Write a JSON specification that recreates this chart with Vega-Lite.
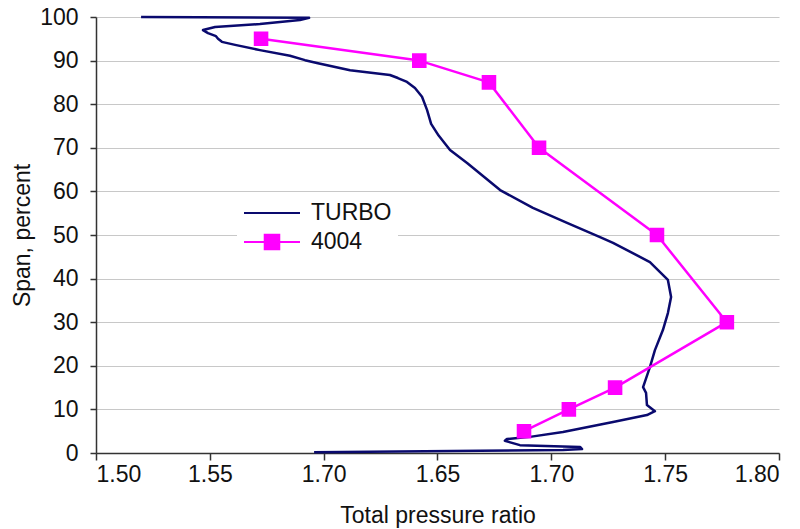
{
  "$schema": "https://vega.github.io/schema/vega-lite/v6.json",
  "autosize": {"type": "none"},
  "padding": {"left": 96, "top": 17, "right": 21, "bottom": 76},
  "width": 683,
  "height": 436,
  "background": "white",
  "config": {
    "font": "Liberation Sans",
    "view": {"stroke": null},
    "axis": {"labelFont": "Liberation Sans", "titleFont": "Liberation Sans", "labelFontSize": 23, "titleFontSize": 23, "labelColor": "#111", "titleColor": "#111", "titleFontWeight": "normal", "domainColor": "#333", "tickColor": "#333", "domainWidth": 1.5, "tickWidth": 1.5},
    "legend": {"title": null, "orient": "none", "legendX": 141, "legendY": 179, "fillColor": "white", "padding": 6, "symbolSize": 3136, "symbolStrokeWidth": 2.5, "labelFontSize": 23, "labelFont": "Liberation Sans", "labelColor": "#111", "labelOffset": 10, "clipHeight": 22, "rowPadding": 6}
  },
  "data": {
    "values": [
      {"series": "TURBO", "order": 1, "x": 1.5198, "y": 100},
      {"series": "TURBO", "order": 2, "x": 1.5936, "y": 99.8},
      {"series": "TURBO", "order": 3, "x": 1.5896, "y": 99.3},
      {"series": "TURBO", "order": 4, "x": 1.572, "y": 98.4},
      {"series": "TURBO", "order": 5, "x": 1.5523, "y": 97.7},
      {"series": "TURBO", "order": 6, "x": 1.547, "y": 97.0},
      {"series": "TURBO", "order": 7, "x": 1.5492, "y": 96.3},
      {"series": "TURBO", "order": 8, "x": 1.5527, "y": 95.6},
      {"series": "TURBO", "order": 9, "x": 1.5536, "y": 95.0},
      {"series": "TURBO", "order": 10, "x": 1.5553, "y": 94.3},
      {"series": "TURBO", "order": 11, "x": 1.5611, "y": 93.6},
      {"series": "TURBO", "order": 12, "x": 1.572, "y": 92.4},
      {"series": "TURBO", "order": 13, "x": 1.5852, "y": 91.1},
      {"series": "TURBO", "order": 14, "x": 1.5918, "y": 90.1},
      {"series": "TURBO", "order": 15, "x": 1.5975, "y": 89.4},
      {"series": "TURBO", "order": 16, "x": 1.6116, "y": 87.8},
      {"series": "TURBO", "order": 17, "x": 1.6291, "y": 86.7},
      {"series": "TURBO", "order": 18, "x": 1.6326, "y": 86.0},
      {"series": "TURBO", "order": 19, "x": 1.6366, "y": 85.1},
      {"series": "TURBO", "order": 20, "x": 1.6401, "y": 83.7},
      {"series": "TURBO", "order": 21, "x": 1.6432, "y": 81.7},
      {"series": "TURBO", "order": 22, "x": 1.6454, "y": 78.7},
      {"series": "TURBO", "order": 23, "x": 1.6472, "y": 75.5},
      {"series": "TURBO", "order": 24, "x": 1.6505, "y": 72.8},
      {"series": "TURBO", "order": 25, "x": 1.6555, "y": 69.5},
      {"series": "TURBO", "order": 26, "x": 1.663, "y": 66.5},
      {"series": "TURBO", "order": 27, "x": 1.6775, "y": 60.3},
      {"series": "TURBO", "order": 28, "x": 1.6919, "y": 56.2},
      {"series": "TURBO", "order": 29, "x": 1.7069, "y": 52.8},
      {"series": "TURBO", "order": 30, "x": 1.7214, "y": 49.5},
      {"series": "TURBO", "order": 31, "x": 1.7271, "y": 48.2},
      {"series": "TURBO", "order": 32, "x": 1.7433, "y": 43.8},
      {"series": "TURBO", "order": 33, "x": 1.7512, "y": 39.7},
      {"series": "TURBO", "order": 34, "x": 1.7526, "y": 35.8},
      {"series": "TURBO", "order": 35, "x": 1.7512, "y": 32.1},
      {"series": "TURBO", "order": 36, "x": 1.749, "y": 28.2},
      {"series": "TURBO", "order": 37, "x": 1.7455, "y": 23.6},
      {"series": "TURBO", "order": 38, "x": 1.7433, "y": 19.7},
      {"series": "TURBO", "order": 39, "x": 1.7403, "y": 15.1},
      {"series": "TURBO", "order": 40, "x": 1.7416, "y": 13.8},
      {"series": "TURBO", "order": 41, "x": 1.742, "y": 11.0},
      {"series": "TURBO", "order": 42, "x": 1.7455, "y": 9.6},
      {"series": "TURBO", "order": 43, "x": 1.742, "y": 8.7},
      {"series": "TURBO", "order": 44, "x": 1.7271, "y": 7.1},
      {"series": "TURBO", "order": 45, "x": 1.7051, "y": 4.8},
      {"series": "TURBO", "order": 46, "x": 1.6906, "y": 3.7},
      {"series": "TURBO", "order": 47, "x": 1.6805, "y": 3.2},
      {"series": "TURBO", "order": 48, "x": 1.6796, "y": 2.8},
      {"series": "TURBO", "order": 49, "x": 1.6862, "y": 1.8},
      {"series": "TURBO", "order": 50, "x": 1.7126, "y": 1.4},
      {"series": "TURBO", "order": 51, "x": 1.7135, "y": 0.9},
      {"series": "TURBO", "order": 52, "x": 1.7051, "y": 0.7},
      {"series": "TURBO", "order": 53, "x": 1.6687, "y": 0.5},
      {"series": "TURBO", "order": 54, "x": 1.5958, "y": 0.2},
      {"series": "4004", "order": 1, "x": 1.5725, "y": 95},
      {"series": "4004", "order": 2, "x": 1.642, "y": 90},
      {"series": "4004", "order": 3, "x": 1.6726, "y": 85},
      {"series": "4004", "order": 4, "x": 1.6946, "y": 70},
      {"series": "4004", "order": 5, "x": 1.7464, "y": 50},
      {"series": "4004", "order": 6, "x": 1.7771, "y": 30},
      {"series": "4004", "order": 7, "x": 1.728, "y": 15},
      {"series": "4004", "order": 8, "x": 1.7077, "y": 10},
      {"series": "4004", "order": 9, "x": 1.688, "y": 5}
    ]
  },
  "encoding": {
    "x": {
      "field": "x", "type": "quantitative",
      "scale": {"domain": [1.5, 1.8], "nice": false, "zero": false},
      "axis": {"values": [1.5, 1.55, 1.6, 1.65, 1.7, 1.75, 1.8], "grid": false, "tickSize": 7, "labelPadding": 3, "title": "Total pressure ratio", "titlePadding": 18,
        "labelExpr": "abs(datum.value - 1.6) < 0.001 ? '1.70' : format(datum.value, '.2f')"}
    },
    "y": {
      "field": "y", "type": "quantitative",
      "scale": {"domain": [0, 100], "nice": false},
      "axis": {"values": [0, 10, 20, 30, 40, 50, 60, 70, 80, 90, 100], "grid": true, "gridColor": "#c8c8c8", "gridWidth": 1.2, "tickSize": 6, "labelPadding": 12, "title": "Span, percent", "titlePadding": 5}
    },
    "color": {
      "field": "series", "type": "nominal",
      "scale": {"domain": ["TURBO", "4004"], "range": ["#0a0a6e", "#ff00ff"]},
      "legend": {
        "encode": {"symbols": {"update": {"stroke": {"scale": "color", "field": "value"}, "fill": {"scale": "color", "field": "value"}, "strokeWidth": {"value": 2}, "opacity": {"value": 1}}}}
      }
    }
  },
  "layer": [
    {
      "mark": {"type": "line", "strokeWidth": 2.5, "strokeJoin": "round"},
      "encoding": {
        "order": {"field": "order", "type": "quantitative"}
      }
    },
    {
      "transform": [{"filter": "datum.series === '4004'"}],
      "mark": {"type": "point", "filled": true, "opacity": 1, "size": 3136},
      "encoding": {
        "shape": {
          "field": "series", "type": "nominal",
          "scale": {"domain": ["TURBO", "4004"], "range": ["M-1,0H1", "M-1,0H1M-0.26,-0.26H0.26V0.26H-0.26Z"]}
        }
      }
    }
  ]
}
